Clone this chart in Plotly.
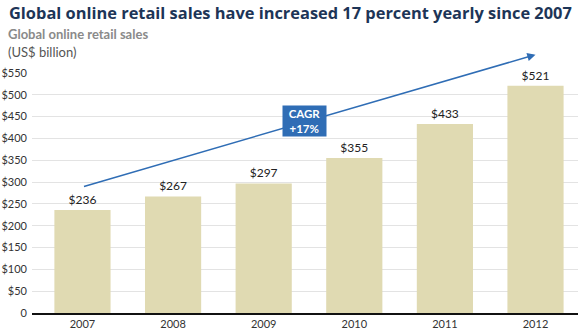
import plotly.graph_objects as go

years = ["2007", "2008", "2009", "2010", "2011", "2012"]
sales = [236, 267, 297, 355, 433, 521]
y_ticks = [0, 50, 100, 150, 200, 250, 300, 350, 400, 450, 500, 550]
y_tick_labels = ["0"] + [f"${v}" for v in y_ticks[1:]]

# growth arrow endpoints (category index, value) and CAGR label position
arrow_start = (0.0, 289)
arrow_end = (5.0, 592)
cagr_pos = (2.45, 440)

x_pos = list(range(len(years)))

fig = go.Figure()
fig.add_trace(go.Bar(
    x=x_pos, y=sales, width=0.62,
    marker=dict(color="#e0dab2", line=dict(width=0)),
    text=[f"${v}" for v in sales], textposition="outside",
    textfont=dict(family="Lato, sans-serif", size=12, color="#222222"),
    cliponaxis=False,
))

fig.add_annotation(
    x=arrow_end[0], y=arrow_end[1], ax=arrow_start[0], ay=arrow_start[1],
    xref="x", yref="y", axref="x", ayref="y",
    showarrow=True, arrowhead=2, arrowsize=1.1, arrowwidth=1.5,
    arrowcolor="#2f6db5", text="",
)
fig.add_annotation(
    x=cagr_pos[0], y=cagr_pos[1], xref="x", yref="y",
    text="<b>CAGR<br>+17%</b>", showarrow=False,
    font=dict(family="Lato, sans-serif", size=11.5, color="white"),
    bgcolor="#2f6db5", width=39, height=26, borderpad=2, align="center",
)

fig.add_annotation(
    x=0, y=1, xref="paper", yref="paper", xanchor="left", yanchor="top",
    xshift=-25, yshift=74,
    text="<b>Global online retail sales have increased 17 percent yearly since 2007</b>",
    showarrow=False, font=dict(family="Open Sans, sans-serif", size=16.4, color="#1d3557"),
)
fig.add_annotation(
    x=0, y=1, xref="paper", yref="paper", xanchor="left", yanchor="top",
    xshift=-26, yshift=49,
    text="<b>Global online retail sales</b>", showarrow=False,
    font=dict(family="Lato, sans-serif", size=13, color="#8a8a8a"),
)
fig.add_annotation(
    x=0, y=1, xref="paper", yref="paper", xanchor="left", yanchor="top",
    xshift=-26, yshift=31,
    text="(US$ billion)", showarrow=False,
    font=dict(family="Lato, sans-serif", size=13, color="#555555"),
)

fig.update_layout(
    width=578, height=336,
    margin=dict(l=32, r=0, t=73, b=23),
    paper_bgcolor="white", plot_bgcolor="white",
    showlegend=False,
    xaxis=dict(
        range=[-0.557, 5.469], tickmode="array", tickvals=x_pos, ticktext=years,
        showgrid=False, zeroline=False, showline=True, linecolor="#111111", linewidth=2,
        ticks="", tickfont=dict(family="Lato, sans-serif", size=11, color="#333333"),
    ),
    yaxis=dict(
        range=[0, 550], tickmode="array", tickvals=y_ticks, ticktext=y_tick_labels,
        showgrid=True, gridcolor="#e3e3e3", gridwidth=1, zeroline=False,
        ticks="", ticklabelstandoff=4,
        tickfont=dict(family="Lato, sans-serif", size=11, color="#333333"),
    ),
)

fig.write_html("out.html")
